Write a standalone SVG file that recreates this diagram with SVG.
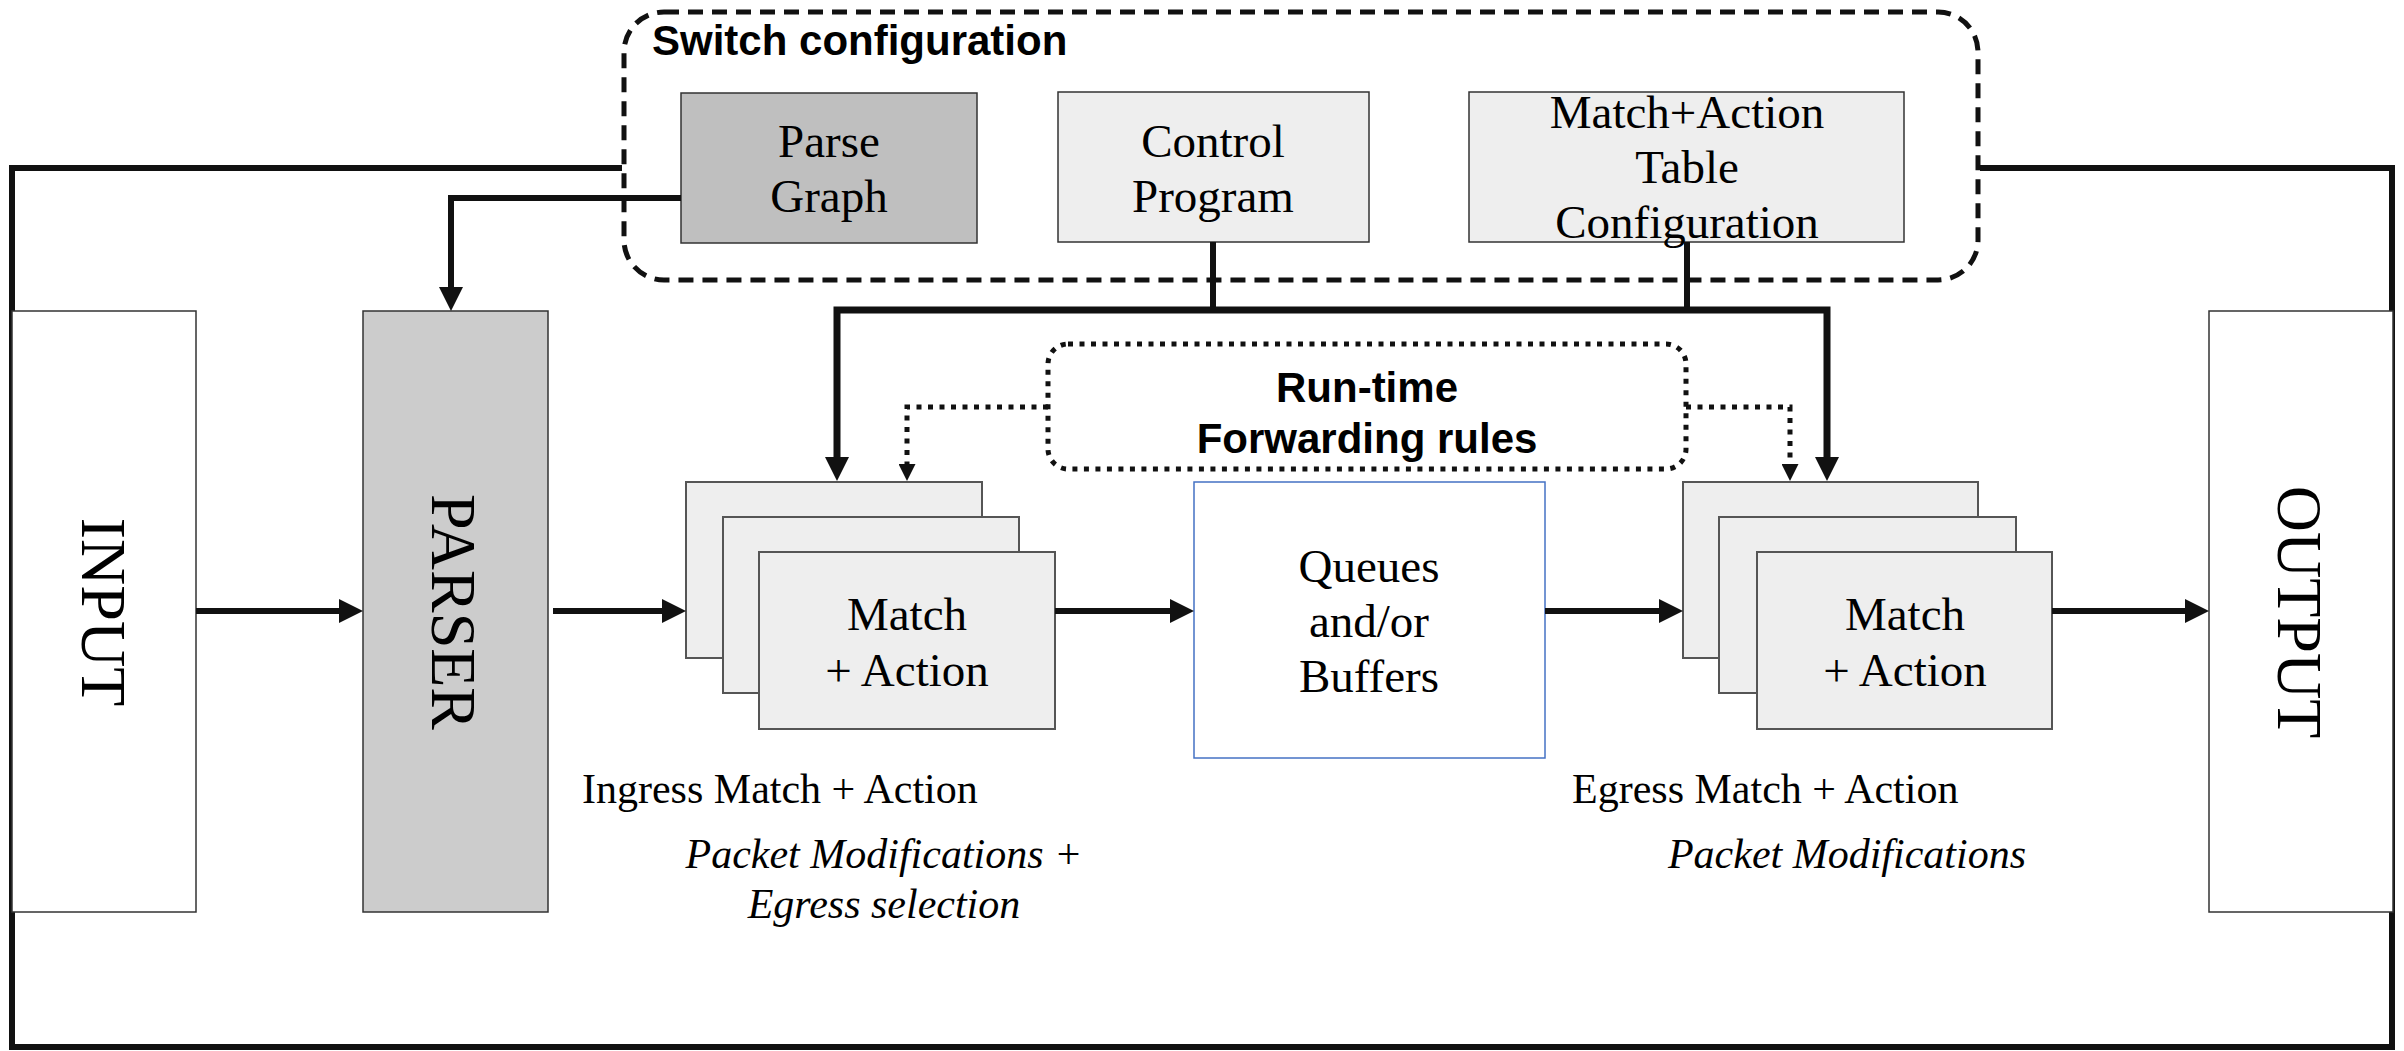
<svg xmlns="http://www.w3.org/2000/svg" width="2404" height="1051" viewBox="0 0 2404 1051">
  <style>
    .serif { font-family: "Liberation Serif", "Times New Roman", serif; fill: #000; }
    .lbl { font-size: 47px; text-anchor: middle; }
    .cap { font-size: 42px; }
    .ital { font-size: 42px; font-style: italic; text-anchor: middle; }
    .rot { font-size: 64px; text-anchor: middle; }
    .sansb { font-family: "Liberation Sans", Arial, sans-serif; font-weight: bold; font-size: 42px; fill: #000; }
    .box { stroke: #333; stroke-width: 1.5; }
    .light { fill: #eeeeee; }
    .stk { fill: #eeeeee; stroke: #555; stroke-width: 2; }
    .line { fill: none; stroke: #111; stroke-width: 6; }
    .bus { fill: none; stroke: #111; stroke-width: 7; }
    .dot { fill: none; stroke: #111; stroke-width: 5; stroke-dasharray: 5 6.5; }
  </style>
  <defs>
    <marker id="ah" markerUnits="userSpaceOnUse" markerWidth="24" markerHeight="24" viewBox="0 0 24 24" refX="0" refY="12" orient="auto">
      <path d="M0,0 L24,12 L0,24 z" fill="#111"/>
    </marker>
    <marker id="ahs" markerUnits="userSpaceOnUse" markerWidth="17" markerHeight="17" viewBox="0 0 17 17" refX="0" refY="8.5" orient="auto">
      <path d="M0,0 L17,8.5 L0,17 z" fill="#111"/>
    </marker>
  </defs>

  <!-- outer frame -->
  <g id="frame">
    <path d="M622 168 H12 V1047 H2392 V168 H1980" fill="none" stroke="#111" stroke-width="6"/>
  </g>

  <!-- switch configuration group -->
  <g id="switch-config">
    <rect x="624" y="12" width="1354" height="268" rx="40" fill="none" stroke="#111" stroke-width="5" stroke-dasharray="15 9"/>
    <text class="sansb" x="652" y="55">Switch configuration</text>
  </g>

  <g id="parse-graph">
    <rect class="box" x="681" y="93" width="296" height="150" fill="#bfbfbf"/>
    <text class="serif lbl" x="829" y="157">Parse</text>
    <text class="serif lbl" x="829" y="212">Graph</text>
  </g>

  <g id="control-program">
    <rect class="box light" x="1058" y="92" width="311" height="150"/>
    <text class="serif lbl" x="1213" y="157">Control</text>
    <text class="serif lbl" x="1213" y="212">Program</text>
  </g>

  <g id="table-config">
    <rect class="box light" x="1469" y="92" width="435" height="150"/>
    <text class="serif lbl" x="1687" y="128">Match+Action</text>
    <text class="serif lbl" x="1687" y="183">Table</text>
    <text class="serif lbl" x="1687" y="238">Configuration</text>
  </g>

  <g id="input">
    <rect class="box" x="12" y="311" width="184" height="601" fill="#fff"/>
    <text class="serif rot" transform="translate(103,612) rotate(90)" x="0" y="21">INPUT</text>
  </g>

  <g id="parser">
    <rect class="box" x="363" y="311" width="185" height="601" fill="#cccccc"/>
    <text class="serif rot" transform="translate(453,612) rotate(90)" x="0" y="21">PARSER</text>
  </g>

  <g id="runtime-rules">
    <rect x="1048" y="344" width="638" height="125" rx="20" class="dot"/>
    <text class="sansb" x="1367" y="402" text-anchor="middle">Run-time</text>
    <text class="sansb" x="1367" y="453" text-anchor="middle">Forwarding rules</text>
  </g>

  <g id="ingress-match-action">
    <rect class="stk" x="686" y="482" width="296" height="176"/>
    <rect class="stk" x="723" y="517" width="296" height="176"/>
    <rect class="stk" x="759" y="552" width="296" height="177"/>
    <text class="serif lbl" x="907" y="630">Match</text>
    <text class="serif lbl" x="907" y="686">+ Action</text>
  </g>

  <g id="queues">
    <rect x="1194" y="482" width="351" height="276" fill="#fff" stroke="#4472c4" stroke-width="1.5"/>
    <text class="serif lbl" x="1369" y="582">Queues</text>
    <text class="serif lbl" x="1369" y="637">and/or</text>
    <text class="serif lbl" x="1369" y="692">Buffers</text>
  </g>

  <g id="egress-match-action">
    <rect class="stk" x="1683" y="482" width="295" height="176"/>
    <rect class="stk" x="1719" y="517" width="297" height="176"/>
    <rect class="stk" x="1757" y="552" width="295" height="177"/>
    <text class="serif lbl" x="1905" y="630">Match</text>
    <text class="serif lbl" x="1905" y="686">+ Action</text>
  </g>

  <g id="output">
    <rect class="box" x="2209" y="311" width="184" height="601" fill="#fff"/>
    <text class="serif rot" transform="translate(2299,612) rotate(90)" x="0" y="21">OUTPUT</text>
  </g>

  <g id="ingress-label">
    <text class="serif cap" x="582" y="803">Ingress Match + Action</text>
    <text class="serif ital" x="884" y="868">Packet Modifications +</text>
    <text class="serif ital" x="884" y="918">Egress selection</text>
  </g>

  <g id="egress-label">
    <text class="serif cap" x="1572" y="803">Egress Match + Action</text>
    <text class="serif ital" x="1847" y="868">Packet Modifications</text>
  </g>

  <!-- connectors -->
  <g id="connectors">
    <path class="line" d="M681 198 H451 V287" marker-end="url(#ah)"/>
    <path class="line" d="M1213 242 V310"/>
    <path class="line" d="M1687 242 V310"/>
    <path class="bus" d="M837 457 V310 H1827 V457"/>
    <path class="line" d="M837 440 V457" marker-end="url(#ah)"/>
    <path class="line" d="M1827 440 V457" marker-end="url(#ah)"/>
    <path class="dot" d="M1048 407 H907 V464" marker-end="url(#ahs)"/>
    <path class="dot" d="M1686 407 H1790 V464" marker-end="url(#ahs)"/>
    <path class="line" d="M196 611 H339" marker-end="url(#ah)"/>
    <path class="line" d="M553 611 H662" marker-end="url(#ah)"/>
    <path class="line" d="M1055 611 H1170" marker-end="url(#ah)"/>
    <path class="line" d="M1545 611 H1659" marker-end="url(#ah)"/>
    <path class="line" d="M2052 611 H2185" marker-end="url(#ah)"/>
  </g>
</svg>
